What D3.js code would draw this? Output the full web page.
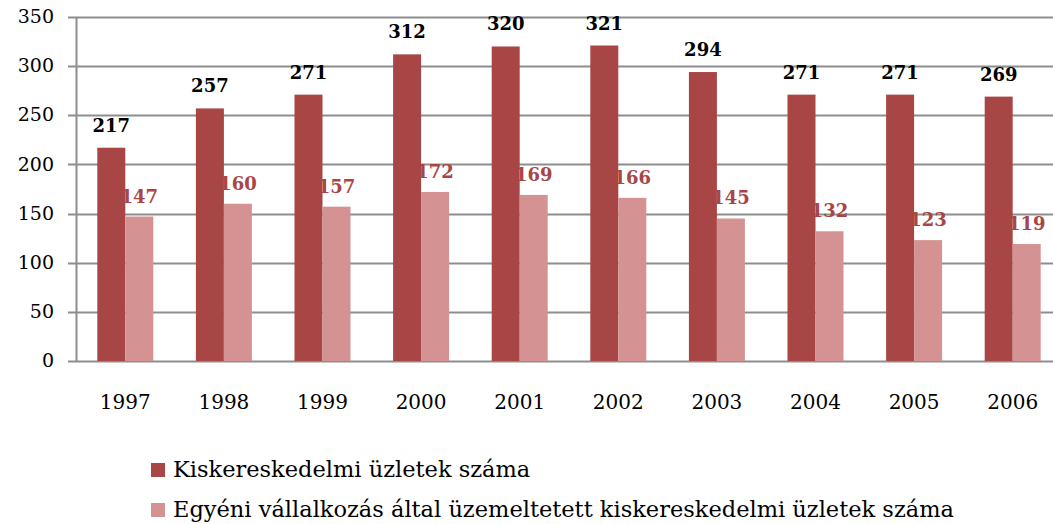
<!DOCTYPE html>
<html>
<head>
<meta charset="utf-8">
<script src="https://cdn.jsdelivr.net/npm/d3@7"></script>
<style>
	body { margin: 0; background: #fff; }
	text { font-family: "DejaVu Serif", "Liberation Serif", serif; }
</style>
</head>
<body>
<div id="chart"></div>
<script>
'use strict'

var years = ['1997','1998','1999','2000','2001','2002','2003','2004','2005','2006'];
var uzletek = [217, 257, 271, 312, 320, 321, 294, 271, 271, 269];
var egyeni = [147, 160, 157, 172, 169, 166, 145, 132, 123, 119];
var seriesNames = ['Kiskereskedelmi üzletek száma', 'Egyéni vállalkozás által üzemeltetett kiskereskedelmi üzletek száma'];
var yTicks = [0, 50, 100, 150, 200, 250, 300, 350];

var width = 1053;
var height = 524;
var colors = ['#a84646', '#d49392'];

var svg = d3.select('#chart')
	.append('svg')
	.attr('width', width)
	.attr('height', height);

// Echelles
var x = d3.scaleBand()
	.domain(years)
	.range([76, 1062]);

var y = d3.scaleLinear()
	.domain([0, 350])
	.range([361, 17]);

var barW = x.bandwidth() * 0.284;

// Grille horizontale
svg.append('g')
	.selectAll('line')
	.data(yTicks)
	.enter()
	.append('line')
		.attr('x1', 68)
		.attr('x2', width)
		.attr('y1', d => Math.round(y(d)) + 0.5)
		.attr('y2', d => Math.round(y(d)) + 0.5)
		.style('stroke', '#8e8e8e')
		.style('stroke-width', 2);

// Axe Y
var yAxis = svg.append('g')
	.attr('transform', 'translate(76,0)')
	.call(d3.axisLeft(y).tickValues(yTicks).tickSize(0).tickPadding(22));
yAxis.select('.domain').style('stroke', '#8e8e8e').style('stroke-width', 2);
yAxis.selectAll('text')
	.style('font-size', '19px')
	.style('fill', '#000')
	.attr('dy', '0.3em');

// Barres
function drawSeries(data, idx) {
	svg.append('g')
		.selectAll('rect')
		.data(data)
		.enter()
		.append('rect')
			.attr('x', (d, i) => x(years[i]) + x.bandwidth() / 2 - barW + idx * barW)
			.attr('y', d => y(d))
			.attr('width', barW)
			.attr('height', d => y(0) - y(d))
			.style('fill', colors[idx]);
}
drawSeries(uzletek, 0);
drawSeries(egyeni, 1);

// Etiquettes des valeurs
svg.append('g')
	.selectAll('text')
	.data(uzletek)
	.enter()
	.append('text')
		.attr('x', (d, i) => x(years[i]) + x.bandwidth() / 2 - barW / 2)
		.attr('y', d => y(d) - 16)
		.attr('text-anchor', 'middle')
		.style('font-size', '18px')
		.style('font-weight', 'bold')
		.style('fill', '#000')
		.text(d => d);

svg.append('g')
	.selectAll('text')
	.data(egyeni)
	.enter()
	.append('text')
		.attr('x', (d, i) => x(years[i]) + x.bandwidth() / 2 + barW / 2)
		.attr('y', d => y(d) - 14)
		.attr('text-anchor', 'middle')
		.style('font-size', '18px')
		.style('font-weight', 'bold')
		.style('fill', '#a84646')
		.text(d => d);

// Axe X
var xAxis = svg.append('g')
	.attr('transform', 'translate(0,361)')
	.call(d3.axisBottom(x).tickSize(0).tickPadding(34));
xAxis.select('.domain').remove();
xAxis.selectAll('text')
	.style('font-size', '20px')
	.style('fill', '#000');

// Legende
var legend = svg.append('g')
	.selectAll('g')
	.data(seriesNames)
	.enter()
	.append('g')
		.attr('transform', (d, i) => 'translate(151,' + (463 + i * 40) + ')');

legend.append('rect')
	.attr('width', 14)
	.attr('height', 14)
	.style('fill', (d, i) => colors[i]);

legend.append('text')
	.attr('x', 22)
	.attr('y', 14)
	.style('font-size', '22.5px')
	.style('fill', '#000')
	.text(d => d);
</script>
</body>
</html>
